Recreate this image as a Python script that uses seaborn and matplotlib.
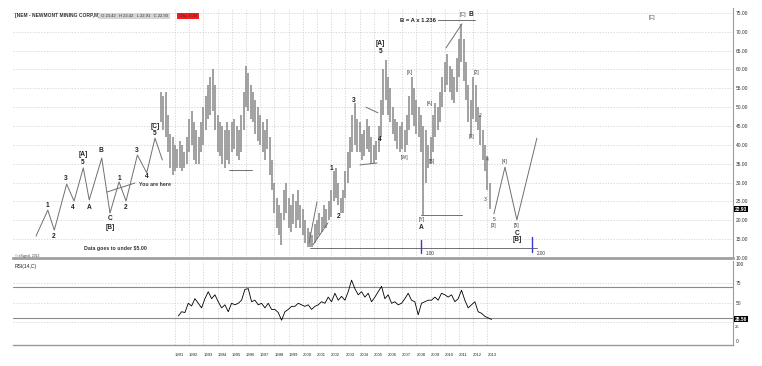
import seaborn as sns
import matplotlib.pyplot as plt
import numpy as np

# bi-monthly price bars (high / low), starting Jan 1990
bar_high = [54, 53, 54, 48, 43, 42,
            40, 39, 41, 40, 38, 42,
            47, 49, 46, 44, 42, 46,
            50, 53, 56, 58, 60, 56,
            48, 46, 45, 44, 46, 44,
            46, 47, 45, 44, 48, 54,
            61, 59, 56, 54, 52, 50,
            48, 46, 44, 47, 42, 36,
            30, 26, 24, 22, 28, 30,
            26, 24, 27, 25, 28, 24,
            23, 20, 18, 17, 16, 19,
            20, 22, 21, 24, 23, 25,
            28, 33, 34, 30, 26, 28,
            33, 38, 42, 48, 51, 47,
            46, 43, 44, 47, 45, 42,
            40, 41, 45, 52, 60, 62.5,
            58, 55, 50, 47, 46, 45,
            46, 44, 48, 53, 58, 55,
            52, 50, 48, 45, 44, 40,
            42, 48, 51, 50, 54, 58,
            62, 64, 61, 60, 58, 63,
            68, 72, 68, 62, 56, 52,
            58, 56, 50, 48, 44, 40,
            37, 30]
bar_low = [46, 44, 42, 38, 34, 32,
           33, 34, 34, 33, 34, 35,
           38, 40, 36, 35, 35, 38,
           40, 44, 47, 48, 49, 44,
           38, 37, 35, 34, 36, 35,
           38, 39, 37, 36, 38, 44,
           50, 49, 47, 46, 43, 41,
           40, 38, 36, 39, 32, 28,
           22, 18, 16, 13.5, 20, 22,
           18, 17, 19, 18, 20, 18,
           16, 14, 13, 13, 13, 14,
           15, 16, 17, 18, 18, 20,
           21, 25, 26, 24, 22, 22,
           26, 30, 34, 38, 40, 38,
           38, 36, 37, 39, 38, 35,
           35, 36, 38, 42, 48, 52,
           48, 46, 43, 41, 39, 38,
           39, 38, 40, 44, 48, 45,
           43, 42, 38, 21.4, 30, 34,
           35, 38, 42, 44, 46, 50,
           54, 56, 54, 52, 51, 54,
           58, 62, 57, 52, 46, 42,
           47, 46, 44, 40, 36, 33,
           28, 22.9]
bar_start = 1990.0

# monthly-ish RSI(14) trace
rsi_vals = [32.5, 38, 37, 49, 45.5, 55, 49, 43, 55, 64, 55, 60, 51, 43, 47, 38,
            49, 47, 49, 53, 67, 68, 51, 53, 47, 49, 43, 49, 41, 41, 37, 27,
            38, 41, 45, 45, 49, 47, 45, 47, 41, 45, 47, 51, 49, 57, 51, 62,
            53, 58, 53, 64, 79, 68, 60, 64, 57, 62, 51, 57, 64, 71, 55, 60,
            49, 51, 47, 49, 55, 62, 53, 51, 34, 49, 51, 53, 53, 57, 53, 62,
            60, 57, 60, 51, 55, 66, 53, 43, 47, 51, 38, 36, 32, 30, 28]
rsi_start = 1991.23

# hand drawn wave count on the left (year, price)
wave_x = [1981.21, 1982.04, 1982.50, 1983.37, 1983.89, 1984.54, 1984.96, 1985.84,
          1986.42, 1987.06, 1987.55, 1988.35, 1989.01, 1989.59, 1990.11]
wave_y = [15.8, 22.7, 17.4, 29.6, 25.1, 33.9, 25.4, 36.5,
          21.9, 30.2, 25.1, 37.3, 32.6, 41.8, 36.0]

# projected path on the right
proj_x = [2013.46, 2014.24, 2015.08, 2016.49]
proj_y = [21.7, 34.1, 20.1, 41.8]

# bold wave labels (text, year, price)
bold_labels = [("1", 1981.99, 23.8), ("2", 1982.48, 15.8), ("3", 1983.32, 31.2),
               ("4", 1983.82, 23.3), ("[A]", 1984.52, 37.4), ("5", 1984.52, 35.4),
               ("A", 1984.94, 23.3), ("B", 1985.79, 38.4), ("C", 1986.42, 20.6),
               ("[B]", 1986.42, 18.2), ("1", 1987.06, 31.2), ("2", 1987.55, 23.5),
               ("3", 1988.32, 38.6), ("4", 1989.03, 31.5), ("[C]", 1989.59, 45.0),
               ("5", 1989.59, 43.0),
               ("1", 2002.04, 33.8), ("2", 2002.55, 21.0), ("3", 2003.56, 51.7),
               ("4", 2005.44, 41.3), ("[A]", 2005.49, 66.9), ("5", 2005.49, 64.7),
               ("A", 2008.37, 18.0), ("B", 2011.85, 74.5), ("C", 2015.08, 16.6)]
small_labels = [("[X]", 2007.55, 59.1), ("[W]", 2007.13, 36.7), ("[A]", 2008.96, 51.1),
                ("[B]", 2009.10, 35.5), ("[Y]", 2008.37, 20.3), ("[C]", 2011.28, 74.5),
                ("[2]", 2012.2, 59.1), ("2", 2012.48, 47.9), ("[1]", 2011.85, 42.1),
                ("4", 2012.97, 36.0), ("3", 2012.83, 25.4), ("5", 2013.46, 20.3),
                ("[3]", 2013.46, 18.5), ("[4]", 2014.24, 35.5), ("[5]", 2015.08, 18.5),
                ("[C]", 2024.59, 73.7)]
bold_bracket = [("[B]", 2015.08, 14.8)]

# extra trend lines ((x0, x1), (y0, y1))
trend_lines = [((1986.21, 1988.18), (27.5, 29.9)),
               ((1994.80, 1996.42), (33.3, 33.3)),
               ((2000.51, 2016.49), (12.65, 12.65)),
               ((2000.44, 2001.00), (14.0, 24.9)),
               ((2000.72, 2001.77), (13.5, 19.3)),
               ((2004.45, 2005.30), (50.0, 48.5)),
               ((2004.03, 2005.23), (34.7, 35.2)),
               ((2008.32, 2011.21), (21.4, 21.4)),
               ((2009.52, 2012.13), (73.1, 73.1)),
               ((2010.08, 2011.21), (65.7, 72.1))]
fib_marks = [(2008.32, 11.3, 14.8, "1.00"), (2016.14, 11.6, 15.6, "2.00")]

price_ticks = list(range(10, 80, 5))
years = list(range(1991, 2014))
last_close = 22.93
last_rsi = 28.56

sns.set_style("white")
plt.rcParams['font.family'] = ['Liberation Sans', 'DejaVu Sans']

fig = plt.figure(figsize=(7.62, 3.66), dpi=100)
ax = fig.add_axes([13/762, 108/366, 720/762, 250/366])
ax2 = fig.add_axes([13/762, 21/366, 720/762, 84/366], sharex=ax)

xlim = (1979.59, 2030.30)
grid_kw = dict(color='#cccccc', lw=0.5, ls=(0, (2, 2)), zorder=0)

# price panel
for p in price_ticks[1:]:
    ax.axhline(p, **grid_kw)
for yr in years:
    ax.axvline(yr, **grid_kw)
    ax2.axvline(yr, **grid_kw)

bar_x = bar_start + np.arange(len(bar_high)) / 6.0
ax.vlines(bar_x, bar_low, bar_high, color='#959595', lw=1.25, zorder=2)

line_c = '#707070'
ax.plot(wave_x, wave_y, color=line_c, lw=0.7, zorder=3)
ax.plot(proj_x, proj_y, color=line_c, lw=0.7, zorder=3)
for (xs, ys) in trend_lines:
    ax.plot(xs, ys, color=line_c, lw=0.7, zorder=3)
for (fx, y0, y1, lab) in fib_marks:
    ax.plot([fx, fx], [y0, y1], color='#3a3ad0', lw=1.0, zorder=4)
    ax.text(fx + 0.35, 11.3, lab, fontsize=3.3, color='#333333', va='center')

for (t, x, y) in bold_labels + bold_bracket:
    ax.text(x, y, t, fontsize=4.8, fontweight='bold', color='#222222', ha='center', va='center', zorder=5)
for (t, x, y) in small_labels:
    ax.text(x, y, t, fontsize=3.6, color='#444444', ha='center', va='center', zorder=5)

ax.text(1988.46, 29.6, "You are here", fontsize=3.8, fontweight='bold', color='#333333', va='center')
ax.text(1986.77, 12.4, "Data goes to under $5.00", fontsize=3.8, fontweight='bold', color='#333333', ha='center', va='center')
ax.text(2008.11, 73.1, "B = A x 1.236", fontsize=4.2, fontweight='bold', color='#222222', ha='center', va='center')
ax.text(1979.75, 10.5, "\u00a9 eSignal, 2013", fontsize=2.4, color='#444444', va='center')

# header
ax.text(1979.70, 74.2, "[NEM - NEWMONT MINING CORP,M]", fontsize=3.5, fontweight='bold', color='#333333', va='center')
ax.text(1985.70, 74.2, " O 23.42   H 23.42   L 22.91   C 22.93 ", fontsize=3.0, color='#333333', va='center',
        bbox=dict(boxstyle='square,pad=0.25', fc='#d4d4d4', ec='none'))
ax.text(1991.20, 74.2, " Chg -0.49 ", fontsize=3.0, color='#333333', va='center',
        bbox=dict(boxstyle='square,pad=0.25', fc='#ff1a1a', ec='none'))

ax.set_xlim(*xlim)
ax.set_ylim(10, 76.31)
ax.yaxis.tick_right()
ax.set_yticks(price_ticks)
ax.set_yticklabels([f"{p:.2f}" for p in price_ticks])
ax.tick_params(axis='y', length=0, pad=2, labelsize=3.5, colors='#333333')
ax.tick_params(axis='x', length=0, labelbottom=False)
for s in ['top', 'left']:
    ax.spines[s].set_visible(False)
ax.spines['right'].set_color('#9a9a9a')
ax.spines['right'].set_linewidth(0.8)
ax.spines['bottom'].set_color('#a0a0a0')
ax.spines['bottom'].set_linewidth(2.0)
ax.text(1.003, (last_close - 10) / 66.31, f"{last_close:.2f}", transform=ax.transAxes, fontsize=3.5,
        color='white', fontweight='bold', va='center', ha='left', zorder=6,
        bbox=dict(boxstyle='square,pad=0.15', fc='black', ec='none'))

# RSI panel
for r in [25, 50, 75]:
    ax2.axhline(r, **grid_kw)
for r in [30, 70]:
    ax2.axhline(r, color='#8a8a8a', lw=0.8, zorder=1)
rsi_x = rsi_start + np.arange(len(rsi_vals)) * 0.2347
sns.lineplot(x=rsi_x, y=rsi_vals, ax=ax2, color='black', lw=0.6, zorder=3)
ax2.text(1979.70, 97, "RSI(14,C)", fontsize=3.6, color='#222222', va='center')
ax2.set_ylim(-5.19, 103.9)
ax2.yaxis.tick_right()
ax2.set_yticks([0, 50, 75, 100])
ax2.set_yticklabels(["0", "50", "75", "100"])
ax2.tick_params(axis='y', length=0, pad=2, labelsize=3.5, colors='#333333')
ax2.set_xticks(years)
ax2.set_xticklabels([str(y) for y in years])
ax2.tick_params(axis='x', length=0, pad=6, labelsize=3.0, colors='#222222')
for lab in ax2.get_xticklabels():
    lab.set_ha('left')
for s in ['top', 'left']:
    ax2.spines[s].set_visible(False)
ax2.spines['right'].set_color('#9a9a9a')
ax2.spines['right'].set_linewidth(0.8)
ax2.spines['bottom'].set_color('#9a9a9a')
ax2.spines['bottom'].set_linewidth(1.0)
ax2.text(1.003, (last_rsi + 5.19) / 109.09, f"{last_rsi:.2f}", transform=ax2.transAxes, fontsize=3.5,
         color='white', fontweight='bold', va='center', ha='left', zorder=6,
         bbox=dict(boxstyle='square,pad=0.15', fc='black', ec='none'))
ax2.text(1.003, 30.19 / 109.09 - 0.04, "25", transform=ax2.transAxes, fontsize=3.0,
         color='#333333', va='top', ha='left')
ax2.set_xlim(*xlim)

fig.savefig("out.png", dpi=100)
